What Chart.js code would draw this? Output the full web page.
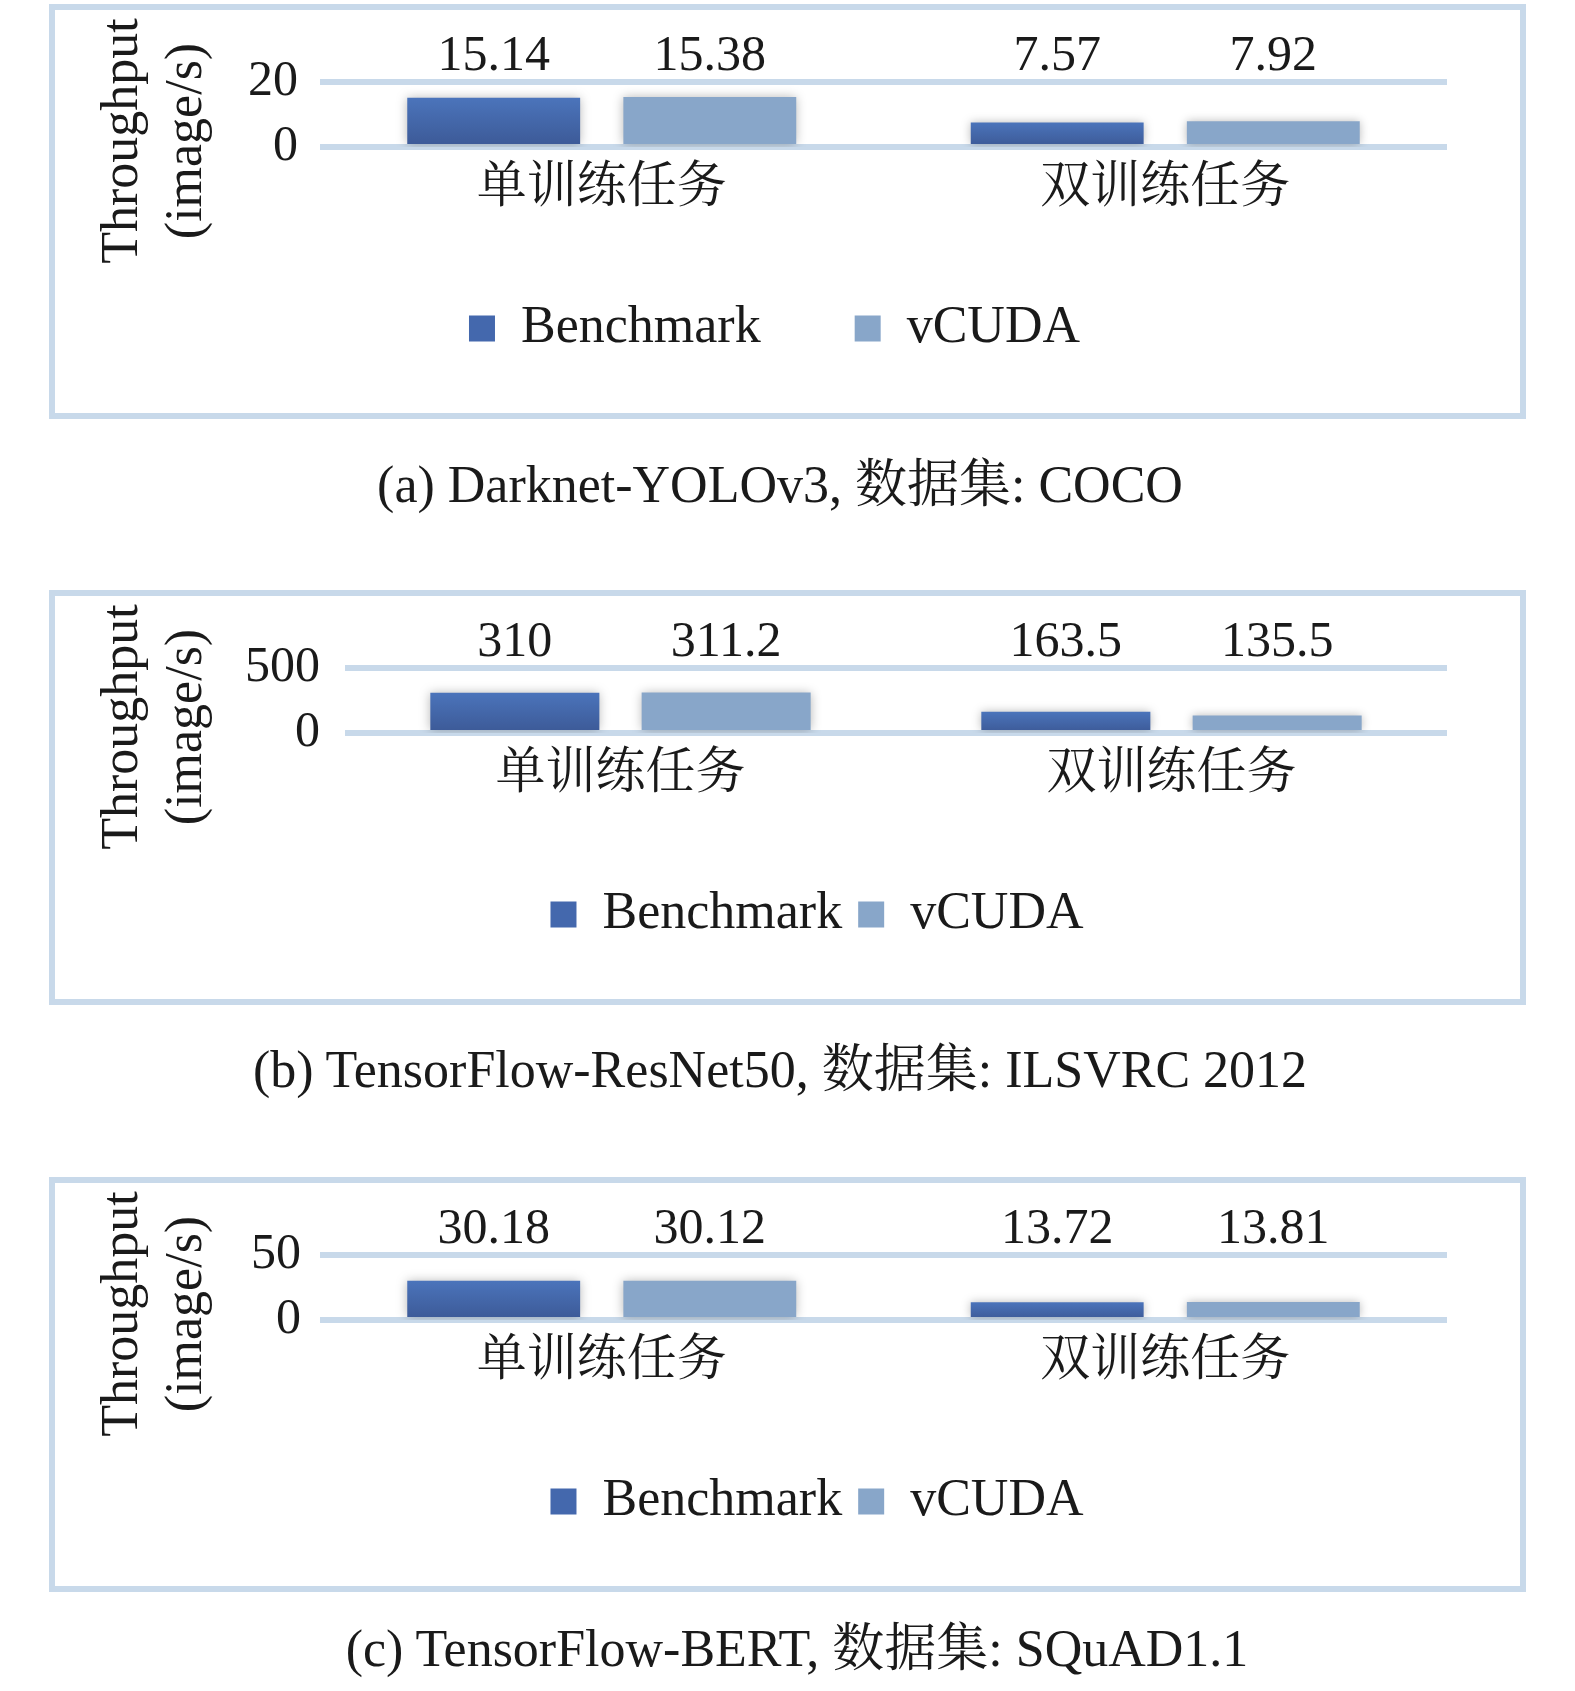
<!DOCTYPE html>
<html>
<head>
<meta charset="utf-8">
<script src="https://cdn.jsdelivr.net/npm/chart.js@4.4.1/dist/chart.umd.min.js"></script>
<style>
  html, body { margin: 0; padding: 0; background: #fff; }
  body { width: 1575px; height: 1691px; position: relative; overflow: hidden; }
  .panel {
    position: absolute; left: 49px; width: 1477px; height: 415px;
    box-sizing: border-box; border: 6px solid #c8d9ea;
  }
  .panel canvas { display: block; }
  .caption {
    position: absolute; width: 1400px; text-align: center;
    font: 52px/52px "Liberation Serif", "Noto Serif CJK SC", "Noto Sans CJK SC", serif;
    color: #1a1a1a; white-space: nowrap;
  }
</style>
</head>
<body>
<div class="panel" style="top:4px"><canvas id="c1" width="1465" height="403"></canvas></div>
<div class="caption" id="cap1" style="left:80px; top:459px"></div>
<div class="panel" style="top:590px"><canvas id="c2" width="1465" height="403"></canvas></div>
<div class="caption" id="cap2" style="left:80px; top:1044px"></div>
<div class="panel" style="top:1177px"><canvas id="c3" width="1465" height="403"></canvas></div>
<div class="caption" id="cap3" style="left:97px; top:1623px"></div>

<script>
// 数据
const categories = ["单训练任务", "双训练任务"];
const seriesNames = ["Benchmark", "vCUDA"];

const yoloBenchmark = [15.14, 7.57];
const yoloVcuda = [15.38, 7.92];
const yoloTicks = [0, 20];

const resnetBenchmark = [310, 163.5];
const resnetVcuda = [311.2, 135.5];
const resnetTicks = [0, 500];

const bertBenchmark = [30.18, 13.72];
const bertVcuda = [30.12, 13.81];
const bertTicks = [0, 50];

const yTitleLines = ["Throughput", "(image/s)"];
const captions = [
  "(a) Darknet-YOLOv3, 数据集: COCO",
  "(b) TensorFlow-ResNet50, 数据集: ILSVRC 2012",
  "(c) TensorFlow-BERT, 数据集: SQuAD1.1",
];

// 样式
const FONT = "'Liberation Serif', 'Noto Serif CJK SC', 'Noto Sans CJK SC', serif";
const TEXT = "#1a1a1a";
const GRID = "#c8d9ea";
const BENCH_TOP = "#4b74bb";
const BENCH_BOTTOM = "#3c5996";
const BENCH_FLAT = "#4468ad";
const VCUDA = "#88a6c9";

Chart.defaults.font.family = FONT;
Chart.defaults.color = TEXT;

// Benchmark 柱子的竖向渐变
const benchFill = (ctx) => {
  const chart = ctx.chart;
  if (!chart.chartArea || ctx.type !== "data") return BENCH_FLAT;
  const y = chart.scales.y;
  const top = y.getPixelForValue(ctx.raw);
  const base = y.getPixelForValue(0);
  const g = chart.ctx.createLinearGradient(0, top, 0, base);
  g.addColorStop(0, BENCH_TOP);
  g.addColorStop(1, BENCH_BOTTOM);
  return g;
};

// 柱子阴影
const barShadow = {
  id: "barShadow",
  beforeDatasetsDraw(chart) {
    const c = chart.ctx;
    c.save();
    c.shadowColor = "rgba(0,0,0,0.28)";
    c.shadowBlur = 10;
  },
  afterDatasetsDraw(chart) {
    chart.ctx.restore();
  },
};

// 数值标签：统一画在顶部网格线上方
const valueLabels = {
  id: "valueLabels",
  afterDraw(chart) {
    const c = chart.ctx;
    const y = chart.chartArea.top - 12;
    c.save();
    c.font = "50px " + FONT;
    c.fillStyle = TEXT;
    c.textAlign = "center";
    c.textBaseline = "alphabetic";
    chart.data.datasets.forEach((ds, di) => {
      chart.getDatasetMeta(di).data.forEach((bar, i) => {
        c.fillText(String(ds.data[i]), bar.x, y);
      });
    });
    c.restore();
  },
};

// 纵轴标题（两行，竖排）
const yTitle = {
  id: "yTitle",
  afterDraw(chart, args, opts) {
    const c = chart.ctx;
    c.save();
    c.font = "52px " + FONT;
    c.fillStyle = TEXT;
    c.textAlign = "center";
    c.textBaseline = "middle";
    opts.lines.forEach((line, i) => {
      c.save();
      c.translate(opts.xs[i], opts.y);
      c.rotate(-Math.PI / 2);
      c.fillText(line, 0, 0);
      c.restore();
    });
    c.restore();
  },
};

const panels = [
  { id: "c1", bench: yoloBenchmark, vcuda: yoloVcuda, ticks: yoloTicks, padL: 47, yW: 218, tickPad: 22, legendPad: 94 },
  { id: "c2", bench: resnetBenchmark, vcuda: resnetVcuda, ticks: resnetTicks, padL: 132, yW: 158, tickPad: 25, legendPad: 16 },
  { id: "c3", bench: bertBenchmark, vcuda: bertVcuda, ticks: bertTicks, padL: 132, yW: 133, tickPad: 19, legendPad: 16 },
];

const TOP_SPACE = 72;      // 绘图区上方（放数值标签）
const PAD_RIGHT = 73;
const LEGEND_FONT = 52;
const LEGEND_MID = 318.5;  // 图例中心距画布顶部
const AREA_BOTTOM = 137;   // 绘图区底边
const BOTTOM_SPACE = 48.5; // 图例下方留白

panels.forEach((p, k) => {
  document.getElementById("cap" + (k + 1)).textContent = captions[k];

  const xH = LEGEND_MID - AREA_BOTTOM - p.legendPad - LEGEND_FONT / 2;

  new Chart(document.getElementById(p.id), {
    type: "bar",
    data: {
      labels: categories,
      datasets: [
        { label: seriesNames[0], data: p.bench, backgroundColor: benchFill, borderWidth: 0 },
        { label: seriesNames[1], data: p.vcuda, backgroundColor: VCUDA, borderWidth: 0 },
      ],
    },
    options: {
      responsive: false,
      animation: false,
      events: [],
      categoryPercentage: 0.767,
      barPercentage: 0.8,
      layout: { padding: { top: 0, left: p.padL, right: PAD_RIGHT, bottom: 0 } },
      scales: {
        x: {
          grid: { display: false },
          border: { display: false },
          ticks: { font: { size: 50 }, color: TEXT, padding: 4 },
          afterFit: (scale) => { scale.height = xH; },
        },
        y: {
          min: p.ticks[0],
          max: p.ticks[p.ticks.length - 1],
          z: 1,
          ticks: { stepSize: p.ticks[1] - p.ticks[0], font: { size: 50 }, color: TEXT, padding: p.tickPad },
          grid: { color: GRID, lineWidth: 6, drawTicks: false },
          border: { display: false },
          afterFit: (scale) => { scale.width = p.yW; },
        },
      },
      plugins: {
        tooltip: { enabled: false },
        // 空白标题/副标题只用来占据上下留白
        title: {
          display: true, text: " ",
          font: { size: 10, lineHeight: 1 },
          padding: { top: TOP_SPACE - 10, bottom: 0 },
        },
        subtitle: {
          display: true, text: " ", position: "bottom",
          font: { size: 10, lineHeight: 1 },
          padding: { top: BOTTOM_SPACE - 10, bottom: 0 },
        },
        legend: {
          position: "bottom",
          labels: {
            boxWidth: 26,
            boxHeight: 26,
            padding: p.legendPad,
            color: TEXT,
            font: { size: LEGEND_FONT },
            generateLabels: (chart) =>
              Chart.defaults.plugins.legend.labels.generateLabels(chart).map((item, i) => {
                item.fillStyle = i === 0 ? BENCH_FLAT : VCUDA;
                item.lineWidth = 0;
                return item;
              }),
          },
        },
        yTitle: { lines: yTitleLines, xs: [68, 132], y: 131 },
      },
    },
    plugins: [barShadow, valueLabels, yTitle],
  });
});
</script>
</body>
</html>
